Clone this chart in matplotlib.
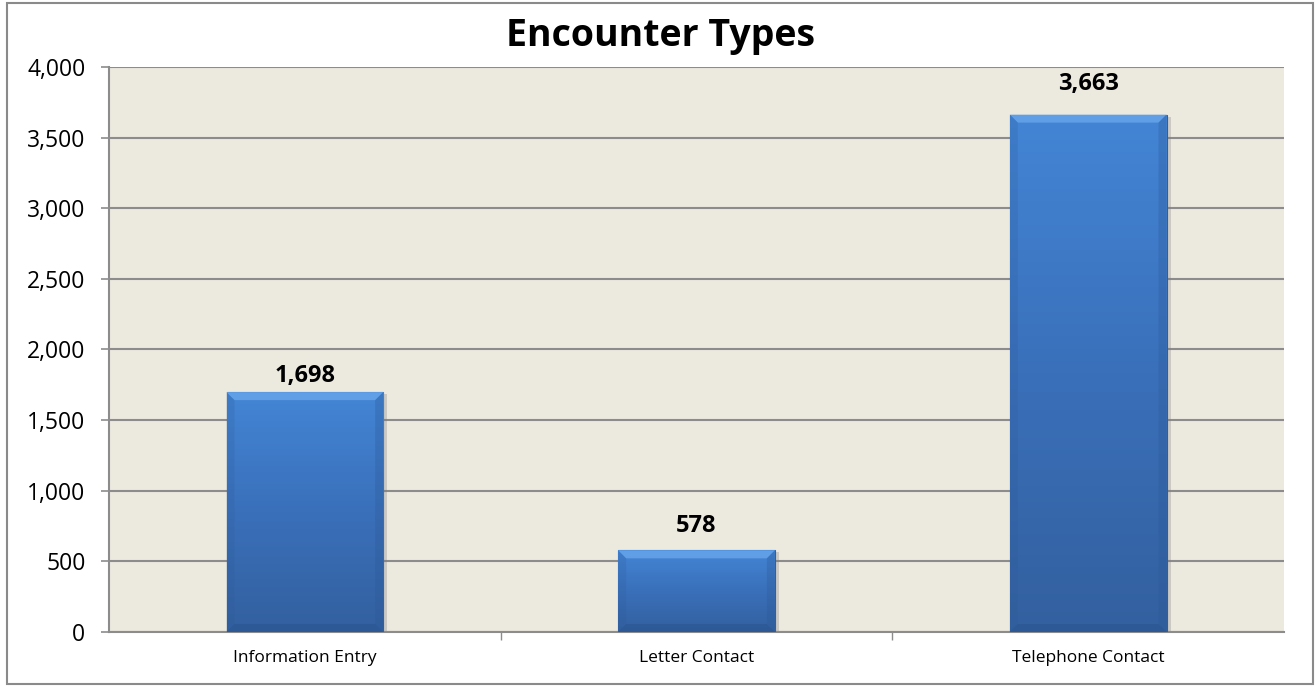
import numpy as np
import matplotlib.pyplot as plt
import matplotlib.ticker as ticker
from matplotlib.colors import LinearSegmentedColormap
from matplotlib.patches import Rectangle, Polygon

categories = ["Information Entry", "Letter Contact", "Telephone Contact"]
values = [1698, 578, 3663]
label_gap_px = [10, 18, 25]  # gap between bar top and value label baseline

plt.rcParams["font.family"] = ["Open Sans", "DejaVu Sans"]

W, H = 1315, 687
fig = plt.figure(figsize=(W / 100, H / 100), dpi=100)
fig.patch.set_facecolor("white")
ax = fig.add_axes([109 / W, 1 - 632 / H, (1284 - 109) / W, (632 - 67) / H])
ax.set_facecolor("#ECE9DF")

# figure border
fig.patches.append(Rectangle((7 / W, 3 / H), (1313 - 7) / W, (684 - 3) / H,
                             transform=fig.transFigure, fill=False,
                             edgecolor="#8a8a8a", linewidth=1.5))

x = np.arange(len(categories))
width = 0.40
bars = ax.bar(x, values, width=width, color="#3f7acb", edgecolor="#2f5f9f",
              linewidth=0.8, zorder=3)

px_x = 3.0 / (1284 - 109)       # data units per pixel (x)
px_y = 4000 / (632 - 67)        # data units per pixel (y)

cmap = LinearSegmentedColormap.from_list("bar", ["#33609f", "#3a70ba", "#4385d5"])
grad = np.linspace(0, 1, 256).reshape(-1, 1)
for b, gap in zip(bars, label_gap_px):
    x0, w, h = b.get_x(), b.get_width(), b.get_height()
    # soft shadow
    ax.add_patch(Rectangle((x0 + 2 * px_x, -4 * px_y), w + 2 * px_x, h + 2 * px_y,
                           facecolor="#7f7f7f", edgecolor="none", alpha=0.3, zorder=2.5))
    im = ax.imshow(grad, cmap=cmap, origin="lower", aspect="auto",
                   extent=(x0, x0 + w, 0, h), zorder=3.5)
    im.set_clip_path(b)
    bx, by = 8 * px_x, 8 * px_y
    # bevel: top light, sides slightly darker, bottom darker
    ax.add_patch(Polygon([(x0, h), (x0 + w, h), (x0 + w - bx, h - by), (x0 + bx, h - by)],
                         closed=True, facecolor="#6eaaee", edgecolor="none", alpha=0.7, zorder=4))
    ax.add_patch(Polygon([(x0, 0), (x0, h), (x0 + bx, h - by), (x0 + bx, by)],
                         closed=True, facecolor="#2c5896", edgecolor="none", alpha=0.2, zorder=4))
    ax.add_patch(Polygon([(x0 + w, 0), (x0 + w, h), (x0 + w - bx, h - by), (x0 + w - bx, by)],
                         closed=True, facecolor="#2c5896", edgecolor="none", alpha=0.3, zorder=4))
    ax.add_patch(Polygon([(x0, 0), (x0 + w, 0), (x0 + w - bx, by), (x0 + bx, by)],
                         closed=True, facecolor="#244c86", edgecolor="none", alpha=0.35, zorder=4))
    ax.text(x0 + w / 2, h + gap * px_y, f"{h:,.0f}", ha="center", va="baseline",
            fontsize=17, fontweight="bold", color="black", zorder=5)

ax.set_xlim(-0.5, len(categories) - 0.5)
ax.set_ylim(0, 4000)
ax.yaxis.set_major_locator(ticker.MultipleLocator(500))
ax.yaxis.set_major_formatter(ticker.FuncFormatter(lambda v, p: f"{v:,.0f}"))
ax.grid(axis="y", color="#8c8c8c", linewidth=1.5, zorder=1)
ax.set_axisbelow(True)

ax.set_xticks(x)
ax.set_xticklabels(categories, fontsize=12.5)
ax.xaxis.set_minor_locator(ticker.FixedLocator([0.5, 1.5]))
ax.tick_params(axis="x", which="major", length=0, pad=13)
ax.tick_params(axis="x", which="minor", length=6, color="#8c8c8c", width=1)
ax.tick_params(axis="y", length=6, color="#8c8c8c", width=1.2, labelsize=16.5, pad=11)

for s in ["top", "right"]:
    ax.spines[s].set_visible(False)
for s in ["left", "bottom"]:
    ax.spines[s].set_color("#8c8c8c")
    ax.spines[s].set_linewidth(1.5)

fig.text(660 / W, 1 - 46 / H, "Encounter Types",
         ha="center", va="baseline", fontsize=27, fontweight="bold")

fig.savefig("out.png", dpi=100, facecolor="white")
